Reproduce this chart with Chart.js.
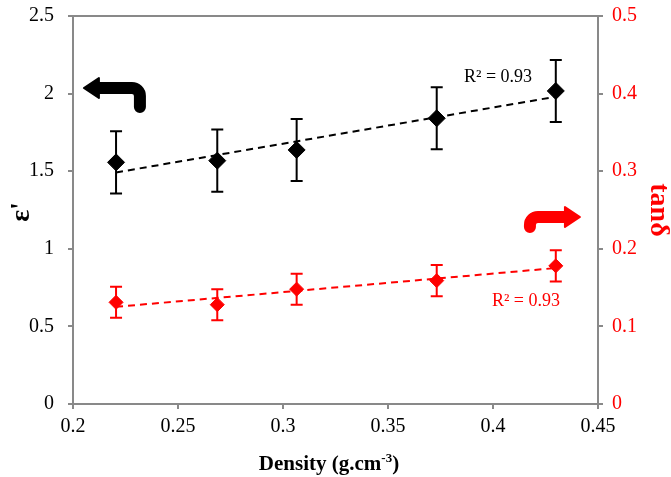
<!DOCTYPE html>
<html>
<head>
<meta charset="utf-8">
<script src="https://cdn.jsdelivr.net/npm/chart.js"></script>
<style>
  body { margin: 0; background: #fff; }
  #wrap { width: 671px; height: 477px; }
</style>
</head>
<body>
<div id="wrap"><canvas id="c"></canvas></div>
<script>
// values
const density = [0.2205, 0.2687, 0.3065, 0.3732, 0.4299];
const epsilon = [1.557, 1.568, 1.637, 1.841, 2.017];
const epsErr = [0.2, 0.2, 0.2, 0.2, 0.2];
const tanDelta = [0.131, 0.128, 0.148, 0.159, 0.178];
const tanErr = [0.02, 0.02, 0.02, 0.02, 0.02];

// trend line ends (linear fit as drawn)
const trendX = [0.2205, 0.4299];
const epsTrend = [1.492, 1.98];
const tanTrend = [0.1252, 0.1752];

const xTicks = [0.2, 0.25, 0.3, 0.35, 0.4, 0.45];
const r2Text = "R² = 0.93";

const red = "#ff0000";
const axisGray = "#898989";
const serif = "'Liberation Serif', 'Times New Roman', serif";

Chart.defaults.font.family = serif;

function pts(xs, ys) {
    return xs.map(function (x, i) { return { x: x, y: ys[i] }; });
}

// 2.0 -> "2", 0.20 -> "0.2"
function plain(v) {
    return String(Number(v.toFixed(3)));
}

// fixed axis sizes so the plot box sits where the original has it
function fitV(s) {
    s.width = 73;
    s.paddingTop = 0;
    s.paddingBottom = 0;
}
function fitH(s) {
    s.height = 73;
    s.paddingLeft = 0;
    s.paddingRight = 0;
}

function drawErr(ctx, sx, sy, xs, ys, errs, color) {
    ctx.save();
    ctx.strokeStyle = color;
    ctx.lineWidth = 2;
    for (let i = 0; i < xs.length; i++) {
        const px = sx.getPixelForValue(xs[i]);
        const top = sy.getPixelForValue(ys[i] + errs[i]);
        const bot = sy.getPixelForValue(ys[i] - errs[i]);
        ctx.beginPath();
        ctx.moveTo(px, top); ctx.lineTo(px, bot);
        ctx.moveTo(px - 6, top); ctx.lineTo(px + 6, top);
        ctx.moveTo(px - 6, bot); ctx.lineTo(px + 6, bot);
        ctx.stroke();
    }
    ctx.restore();
}

// bent arrow: dir -1 points left, +1 points right; leg drops down at the far end
function drawArrow(ctx, tx, ty, dir, len, drop, color) {
    const s = -dir;
    const cx = tx + s * len;
    ctx.save();
    ctx.strokeStyle = color;
    ctx.fillStyle = color;
    ctx.lineWidth = 12;
    ctx.lineCap = "round";
    ctx.lineJoin = "round";
    ctx.beginPath();
    ctx.moveTo(tx + s * 12, ty);
    ctx.arcTo(cx, ty, cx, ty + drop, 8);
    ctx.lineTo(cx, ty + drop);
    ctx.stroke();
    ctx.lineWidth = 2;
    ctx.beginPath();
    ctx.moveTo(tx, ty);
    ctx.lineTo(tx + s * 15, ty - 10);
    ctx.lineTo(tx + s * 15, ty + 10);
    ctx.closePath();
    ctx.fill();
    ctx.stroke();
    ctx.restore();
}

const extras = {
    id: "extras",
    beforeDatasetsDraw(chart) {
        const { ctx, scales } = chart;
        drawErr(ctx, scales.x, scales.y, density, epsilon, epsErr, "#000");
        drawErr(ctx, scales.x, scales.y1, density, tanDelta, tanErr, red);
    },
    afterDraw(chart) {
        const { ctx, chartArea: a, scales } = chart;
        const { x, y, y1 } = scales;

        // plot frame top
        ctx.save();
        ctx.strokeStyle = axisGray;
        ctx.lineWidth = 2;
        ctx.beginPath();
        ctx.moveTo(a.left - 5, a.top);
        ctx.lineTo(a.right + 5, a.top);
        ctx.stroke();

        // R² labels
        ctx.font = "18px " + serif;
        ctx.textAlign = "center";
        ctx.textBaseline = "middle";
        ctx.fillStyle = "#000";
        ctx.fillText(r2Text, x.getPixelForValue(0.4024), y.getPixelForValue(2.107));
        ctx.fillStyle = red;
        ctx.fillText(r2Text, x.getPixelForValue(0.4157), y1.getPixelForValue(0.1327));

        // arrows pointing at each series' axis
        drawArrow(ctx, x.getPixelForValue(0.2052), y.getPixelForValue(2.036), -1, 56, 19, "#000");
        drawArrow(ctx, x.getPixelForValue(0.4414), y1.getPixelForValue(0.241), 1, 50, 10, red);

        // axis titles
        ctx.fillStyle = "#000";
        ctx.font = "bold 28px " + serif;
        ctx.save();
        ctx.translate(22, (a.top + a.bottom) / 2 + 2);
        ctx.rotate(-Math.PI / 2);
        ctx.fillText("ε'", 0, 0);
        ctx.restore();

        ctx.fillStyle = red;
        ctx.save();
        ctx.translate(658, (a.top + a.bottom) / 2);
        ctx.rotate(Math.PI / 2);
        ctx.fillText("tanδ", 0, 0);
        ctx.restore();

        // x title with superscript
        const big = "bold 21px " + serif;
        const small = "bold 13px " + serif;
        const p1 = "Density (g.cm", p2 = "-3", p3 = ")";
        ctx.font = big;
        const w1 = ctx.measureText(p1).width, w3 = ctx.measureText(p3).width;
        ctx.font = small;
        const w2 = ctx.measureText(p2).width;
        let sx = 329 - (w1 + w2 + w3) / 2;
        const base = 470;
        ctx.fillStyle = "#000";
        ctx.textAlign = "left";
        ctx.textBaseline = "alphabetic";
        ctx.font = big;
        ctx.fillText(p1, sx, base);
        ctx.font = small;
        ctx.fillText(p2, sx + w1, base - 8);
        ctx.font = big;
        ctx.fillText(p3, sx + w1 + w2, base);
        ctx.restore();
    }
};

new Chart(document.getElementById("c"), {
    type: "scatter",
    data: {
        datasets: [{
            label: "trend eps",
            data: pts(trendX, epsTrend),
            yAxisID: "y",
            showLine: true,
            borderColor: "#000",
            borderWidth: 2,
            borderDash: [7, 5],
            pointRadius: 0
        }, {
            label: "trend tan",
            data: pts(trendX, tanTrend),
            yAxisID: "y1",
            showLine: true,
            borderColor: red,
            borderWidth: 2,
            borderDash: [7, 5],
            pointRadius: 0
        }, {
            label: "ε'",
            data: pts(density, epsilon),
            yAxisID: "y",
            pointStyle: "rectRot",
            pointRadius: 8.5,
            backgroundColor: "#000",
            borderColor: "#000",
            borderWidth: 1
        }, {
            label: "tanδ",
            data: pts(density, tanDelta),
            yAxisID: "y1",
            pointStyle: "rectRot",
            pointRadius: 7,
            backgroundColor: red,
            borderColor: red,
            borderWidth: 1
        }]
    },
    options: {
        responsive: true,
        maintainAspectRatio: false,
        animation: false,
        layout: { padding: { top: 16, left: 0, right: 0, bottom: 0 } },
        plugins: {
            legend: { display: false },
            tooltip: { enabled: false }
        },
        scales: {
            x: {
                type: "linear",
                min: 0.2,
                max: 0.45,
                afterFit: fitH,
                afterBuildTicks: function (s) { s.ticks = xTicks.map(function (v) { return { value: v }; }); },
                grid: { drawOnChartArea: false, drawTicks: true, tickLength: 5, color: axisGray, lineWidth: 2 },
                border: { color: axisGray, width: 2 },
                ticks: { color: "#000", font: { size: 20 }, padding: 6, maxRotation: 0, callback: plain }
            },
            y: {
                position: "left",
                min: 0,
                max: 2.5,
                afterFit: fitV,
                grid: { drawOnChartArea: false, drawTicks: true, tickLength: 5, color: axisGray, lineWidth: 2 },
                border: { color: axisGray, width: 2 },
                ticks: { stepSize: 0.5, color: "#000", font: { size: 20 }, padding: 14, callback: plain }
            },
            y1: {
                position: "right",
                min: 0,
                max: 0.5,
                afterFit: fitV,
                grid: { drawOnChartArea: false, drawTicks: true, tickLength: 5, color: axisGray, lineWidth: 2 },
                border: { color: axisGray, width: 2 },
                ticks: { stepSize: 0.1, color: red, font: { size: 20 }, padding: 9, callback: plain }
            }
        }
    },
    plugins: [extras]
});
</script>
</body>
</html>
